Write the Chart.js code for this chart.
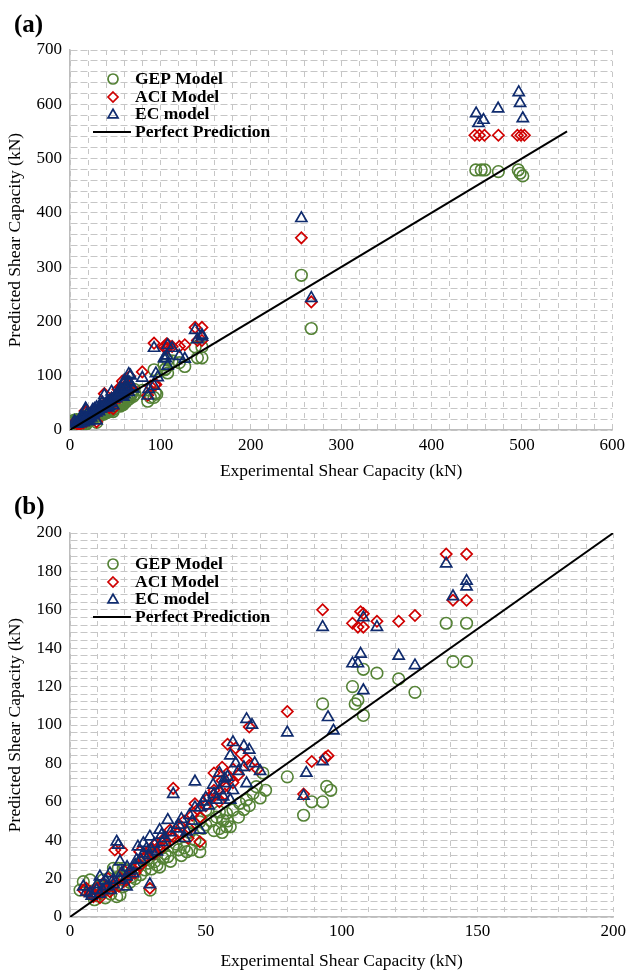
<!DOCTYPE html>
<html><head><meta charset="utf-8">
<script src="https://cdn.jsdelivr.net/npm/chart.js@4.4.1/dist/chart.umd.min.js"></script>
<style>
html,body{margin:0;padding:0;background:#fff;width:630px;height:973px;overflow:hidden}
.panel{position:absolute;left:0;width:630px}
canvas{display:block}
.lbl{position:absolute;left:14px;font:bold 25px "Liberation Serif","Times New Roman",serif;line-height:25px;color:#000}
</style></head><body>
<div class="panel" style="top:0;height:486px"><canvas id="ca" width="630" height="486"></canvas></div>
<div class="lbl" style="top:11px">(a)</div>
<div class="panel" style="top:486px;height:487px"><canvas id="cb" width="630" height="487"></canvas></div>
<div class="lbl" style="top:493px">(b)</div>
<script>
// ---- data: [experimental, predicted] ----
const gepPoints = [
 [449,479],[455,479],[459,479],[474,476],[496,479],[498,473],[501,468],
 [256,285],[267,187],
 [138.5,153],[146,153],[141,133],[146,133],[108,129],[113,127],[121,124],[104,120],[127,117],[106,113],[105,111],[93,111],[108,105],
 [80,73],[86,53],[89,60],[93,60],[94.5,68],[96,66],
 [50,55.7],[55,54.8],[57.6,54],[60,55.7],[62.5,59.2],[65,61],[67.4,64.4],[68.6,67.9],[54,52],[56.4,50.5],[57.6,47],[55,46],
 [47.8,49.6],[45.3,48.8],[49,46.2],[43,34],[47.8,34],[44.7,34.9],[38,36.6],[36,31.4],[34.3,30.6],[28.8,28],[25.7,28],[31.2,28.8],
 [27.6,24.5],[17.8,25.4],[19.6,25.4],[16,25.4],[29.5,14],[4.9,18.4],[7.4,19.3],[12.2,19.3],[3.7,14],[18.4,11.5],[17.2,10.6],[19.6,15.8],
 [8,12],[10,11],[12,13],[14,16],[15,12],[20,19],[22,18],[23,21],[24,20],[21,24],[26,22],[30,25],[32,27],[33,26],[35,33],[37,29],
 [40,35],[41,32],[39,38],[42,36],[46,40],[48,38],[44,44],[50,48],[52,50],[53,45],[58,50],[59,47],[62,52],[64,56],[66,58],[70,62],
 [72,66],[56,44],[11,16],[9,9],[13,10],[18,21],[27,30],[25,26],[31,33],[34,36],[71,75]
];
const aciPoints = [
 [448,543],[453,543],[458.6,543],[474,543],[495,543],[499,543],[502.8,543],[256,354],[267,236],
 [138.5,189],[146,189],[141,165],[146,165],[93,160],[107,159],[108,158],[104,153],[106,151],[108,151],[113,154],[121,154],[127,157],
 [80,107],[89,81],[94,83],[95,84],[86,64],
 [38,67],[46,59],[56,71],[57,68],[60,70],[52.7,63.5],[36.8,45.3],[38,41.8],[47.8,39.2],[43.5,41],[31.9,38.4],[33,34.9],[29.4,34.9],
 [25.7,34],[16.5,34.9],[19,34.9],[29.4,15],[4.9,14],[7.4,13.2],[8.6,10.6],[11,12.3],[14.7,13.2],[15.9,15.8],[20.8,19.3],
 [58,90],[61,88],[63,85],[65,82],[56,78],[60,77],[66,79],[69,77],[66,99],[53,75],[62,74],
 [10,15],[12,17],[13,14],[17,18],[18,16],[22,22],[23,25],[24,23],[26,27],[27,30],[28,32],[30,36],[31,33],[33,37],[34,40],[35,38],
 [37,42],[40,44],[41,47],[42,50],[44,46],[45,53],[47,56],[48,52],[50,58],[51,62],[53,66],[55,60],[57,64],[59,72],[9,12],[11,10],
 [14,20],[20,24],[21,20],[6,15]
];
const ecPoints = [
 [496.5,622],[498,602],[501,574],[473.7,592],[449.4,583],[457.5,571],[452,565],[256,390],[267,243],
 [138.5,184],[146,175],[146,172],[141,167],[93,151],[108,156],[113,151],[107,137],[104,132],[106,132],[121,136],[127,131],[108,118],
 [95,104],[80,96],[87,75],[93,81],[97,97],[86,63],
 [38,64],[46,70.5],[52.7,68.8],[57,69.6],[60,66],[65,69.6],[46,57],[54,61],[56.4,62.7],[59,61],[36,50.5],[33,45.3],[33.7,42.7],
 [43,44.4],[47.8,45.3],[42.3,41],[29.4,41.8],[27,38.4],[25,36.6],[28.2,35.8],[17.2,39.2],[17.8,37.5],[18.4,28.8],[29.4,17],
 [4.9,15.8],[11,21],[14.7,22.7],[9.8,14],[7.4,12.3],[13.5,15.8],[15.9,19.3],[20.8,21],[23.3,22.7],[24.5,29.7],[18.4,19.3],[20.8,15.8],
 [65,103],[67,100],[60,91],[64,89],[66,87],[59,84],[61,80],[64,78],[55,75],[58,73],[68,80],[70,76],
 [10,17],[12,14],[13,19],[16,17],[19,23],[21,26],[22,24],[24,27],[26,30],[27,33],[29,32],[30,35],[31,38],[32,34],[34,39],[35,41],
 [37,44],[39,46],[40,48],[41,51],[44,53],[45,50],[48,57],[49,60],[50,62],[51,58],[53,64],[55,66],[57,72],[62,76],[8,11],[11,12],
 [15,14],[6,13]
];
const seriesNames = ['GEP Model','ACI Model','EC model','Perfect Prediction'];
const perfectA = [0, 550];
const perfectB = [0, 200];
const xLabelsA = [0,100,200,300,400,500,600];
const yLabelsA = [0,100,200,300,400,500,600,700];
const xLabelsB = [0,50,100,150,200];
const yLabelsB = [0,20,40,60,80,100,120,140,160,180,200];
const xTitle = 'Experimental Shear Capacity (kN)';
const yTitle = 'Predicted Shear Capacity (kN)';

const COL = {gep:'#548235', aci:'#d00000', ec:'#0f2b6e'};
const SERIF = '"Liberation Serif","Times New Roman",serif';
Chart.defaults.font.family = SERIF;
Chart.defaults.color = '#000';

function toXY(arr){ return arr.map(p => ({x:p[0], y:p[1]})); }

function drawMarker(ctx, style, x, y, r){
  ctx.beginPath();
  if (style === 'circle') { ctx.arc(x, y, r, 0, Math.PI*2); }
  else if (style === 'rectRot') { ctx.moveTo(x, y-r); ctx.lineTo(x+r, y); ctx.lineTo(x, y+r); ctx.lineTo(x-r, y); ctx.closePath(); }
  else if (style === 'triangle') {
    for (let i=0;i<3;i++){ const a = i*2*Math.PI/3; const px = x + Math.sin(a)*r, py = y - Math.cos(a)*r; if(i===0) ctx.moveTo(px,py); else ctx.lineTo(px,py); }
    ctx.closePath();
  }
  ctx.stroke();
}

const legendPlugin = {
  id: 'customLegend',
  afterDatasetsDraw(chart, args, opts) {
    const ctx = chart.ctx;
    ctx.save();
    ctx.font = 'bold 17.5px ' + SERIF;
    ctx.textBaseline = 'middle';
    ctx.textAlign = 'left';
    ctx.fillStyle = '#000';
    const rows = opts.rows;
    const items = [
      {style:'circle', color:COL.gep, r:5},
      {style:'rectRot', color:COL.aci, r:5},
      {style:'triangle', color:COL.ec, r:5.8},
      {style:'line', color:'#000'}
    ];
    items.forEach((it, i) => {
      const y = rows[i];
      ctx.strokeStyle = it.color;
      if (it.style === 'line') {
        ctx.lineWidth = 2;
        ctx.beginPath(); ctx.moveTo(93, y); ctx.lineTo(131, y); ctx.stroke();
      } else {
        ctx.lineWidth = 1.7;
        drawMarker(ctx, it.style, 113, it.style==='triangle' ? y+1 : y, it.r);
      }
      ctx.fillText(seriesNames[i], 135, y);
    });
    ctx.restore();
  }
};

function makeChart(id, o) {
  const gridH = {color:'#c6c6c6', lineWidth:1, drawTicks:false};
  new Chart(document.getElementById(id), {
    type: 'scatter',
    data: {
      datasets: [
        {label: seriesNames[3], type:'line', data: [{x:o.perfect[0], y:o.perfect[0]},{x:o.perfect[1], y:o.perfect[1]}],
         borderColor:'#000', borderWidth:2, pointRadius:0, fill:false, order:0},
        {label: seriesNames[2], data: toXY(ecPoints), pointStyle:'triangle', pointRadius:6.4, pointHoverRadius:6.4,
         borderColor:COL.ec, backgroundColor:'rgba(0,0,0,0)', pointBorderWidth:1.7, order:1},
        {label: seriesNames[1], data: toXY(aciPoints), pointStyle:'rectRot', pointRadius:5.6, pointHoverRadius:5.6,
         borderColor:COL.aci, backgroundColor:'rgba(0,0,0,0)', pointBorderWidth:1.7, order:2},
        {label: seriesNames[0], data: toXY(gepPoints), pointStyle:'circle', pointRadius:5.8, pointHoverRadius:5.8,
         borderColor:COL.gep, backgroundColor:'rgba(0,0,0,0)', pointBorderWidth:1.6, order:3}
      ]
    },
    options: {
      responsive:false, animation:false, events:[],
      layout:{padding:{left:0, top:o.padTop, right:o.padRight, bottom:0}},
      plugins:{legend:{display:false}, tooltip:{enabled:false}, customLegend:{rows:o.rows}},
      scales:{
        x:{type:'linear', min:0, max:o.xMax,
           afterFit: s => { s.height = 56; },
           ticks:{stepSize:o.xStep, autoSkip:false, maxRotation:0, padding:o.xTickPad, font:{size:17},
                  callback: v => o.xLabels.includes(Math.round(v*1000)/1000) ? String(Math.round(v)) : ''},
           grid:Object.assign({}, gridH),
           border:{display:true, color:'#bdbdbd', width:1.5, dash:[5,6]},
           title:{display:true, text:xTitle, font:{size:17.5}, padding:{top:0, bottom:o.xTitlePad}}},
        y:{type:'linear', min:0, max:o.yMax,
           afterFit: s => { s.width = 70; },
           ticks:{stepSize:o.yStep, autoSkip:false, padding:8, font:{size:17},
                  callback: v => o.yLabels.includes(Math.round(v*1000)/1000) ? String(Math.round(v)) : ''},
           grid:Object.assign({}, gridH),
           border:{display:true, color:'#bdbdbd', width:1.5, dash:[7,3]},
           title:{display:true, text:yTitle, font:{size:17.5}, padding:{top:4.5, bottom:0}}}
      }
    },
    plugins:[legendPlugin]
  });
}

makeChart('ca', {xMax:600, yMax:700, xStep:20, yStep:20, xLabels:xLabelsA, yLabels:yLabelsA,
  perfect:perfectA, padTop:50, padRight:17, xTickPad:5, xTitlePad:4.5, rows:[79,97,114,132]});
makeChart('cb', {xMax:200, yMax:200, xStep:10, yStep:4, xLabels:xLabelsB, yLabels:yLabelsB,
  perfect:perfectB, padTop:47, padRight:16, xTickPad:4, xTitlePad:1, rows:[78,96,113,131]});
</script>
</body></html>
